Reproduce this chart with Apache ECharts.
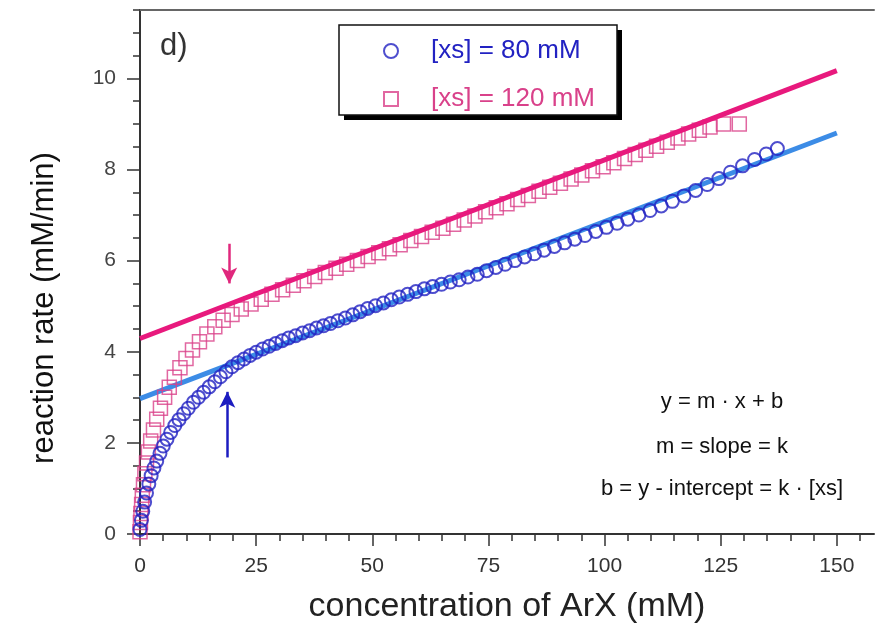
<!DOCTYPE html>
<html>
<head>
<meta charset="utf-8">
<script src="https://cdn.jsdelivr.net/npm/echarts@6/dist/echarts.min.js"></script>
<style>
  html, body { margin: 0; background: #fff; }
  #main { width: 876px; height: 634px; }
</style>
</head>
<body>
<div id="main"></div>
<script>
  // measured points [ArX (mM), rate (mM/min)]
  var data80 = [
    [0, 0.1], [0.3, 0.3], [0.6, 0.5], [1.0, 0.7], [1.4, 0.9], [1.9, 1.1], [2.4, 1.28], [3.0, 1.45],
    [3.6, 1.6], [4.3, 1.77], [5.0, 1.93], [5.8, 2.08], [6.6, 2.23], [7.5, 2.38], [8.4, 2.51], [9.4, 2.64],
    [10.4, 2.76], [11.5, 2.89], [12.6, 3.0], [13.7, 3.11], [14.9, 3.23], [16.1, 3.34], [17.3, 3.45],
    [18.5, 3.56], [19.8, 3.67], [21.1, 3.76], [22.4, 3.84], [23.7, 3.92], [25.0, 3.99], [26.4, 4.06],
    [27.8, 4.12], [29.2, 4.18], [30.6, 4.24], [32.0, 4.3], [33.5, 4.35], [35.0, 4.41], [36.5, 4.46],
    [38.0, 4.52], [39.5, 4.57], [41.0, 4.62], [42.6, 4.68], [44.2, 4.74], [45.8, 4.81], [47.4, 4.88],
    [49.0, 4.95], [50.7, 5.01], [52.4, 5.07], [54.1, 5.14], [55.8, 5.2], [57.6, 5.26], [59.4, 5.32],
    [61.2, 5.38], [63.0, 5.43], [64.9, 5.48], [66.8, 5.53], [68.7, 5.58], [70.6, 5.64], [72.6, 5.7],
    [74.6, 5.78], [76.6, 5.85], [78.6, 5.92], [80.7, 6.0], [82.8, 6.08], [84.9, 6.15], [87.0, 6.23],
    [89.2, 6.31], [91.4, 6.39], [93.6, 6.47], [95.8, 6.55], [98.1, 6.64], [100.4, 6.73], [102.7, 6.82],
    [105.0, 6.91], [107.4, 7.0], [109.8, 7.1], [112.2, 7.2], [114.6, 7.3], [117.1, 7.42], [119.6, 7.54],
    [122.1, 7.67], [124.6, 7.8], [127.1, 7.94], [129.7, 8.08], [132.3, 8.22], [134.8, 8.34], [137.2, 8.46]
  ];
  var data120 = [
    [0, 0.05], [0.1, 0.25], [0.2, 0.45], [0.35, 0.65], [0.5, 0.85], [0.75, 1.08], [1.05, 1.32],
    [1.4, 1.56], [1.8, 1.8], [2.3, 2.04], [2.9, 2.28], [3.6, 2.52], [4.4, 2.76], [5.3, 3.0],
    [6.3, 3.22], [7.4, 3.44], [8.6, 3.65], [9.9, 3.85], [11.3, 4.04], [12.8, 4.22], [14.4, 4.39],
    [16.1, 4.55], [17.9, 4.69], [19.8, 4.82], [21.8, 4.94], [23.9, 5.05], [26.1, 5.15], [28.4, 5.26],
    [30.7, 5.36], [33.0, 5.46], [35.3, 5.56], [37.6, 5.65], [39.9, 5.74], [42.2, 5.83], [44.5, 5.92],
    [46.8, 6.0], [49.1, 6.09], [51.4, 6.17], [53.7, 6.26], [56.0, 6.35], [58.3, 6.44], [60.6, 6.53],
    [62.9, 6.62], [65.2, 6.71], [67.5, 6.8], [69.8, 6.89], [72.1, 6.98], [74.4, 7.07], [76.7, 7.16],
    [79.0, 7.25], [81.3, 7.34], [83.6, 7.43], [85.9, 7.52], [88.2, 7.61], [90.5, 7.7], [92.8, 7.79],
    [95.1, 7.88], [97.4, 7.97], [99.7, 8.06], [102.0, 8.15], [104.3, 8.24], [106.6, 8.33], [108.9, 8.42],
    [111.2, 8.51], [113.5, 8.6], [115.8, 8.69], [118.1, 8.78], [120.4, 8.86], [122.7, 8.93], [125.6, 9.0],
    [129.0, 9.0]
  ];
  // linear fits y = m*x + b (end points)
  var fit80 = [[0, 2.97], [150, 8.8]];
  var fit120 = [[0, 4.29], [150, 10.17]];
  // arrows (tail, head)
  var arrow80 = [[18.8, 1.68], [18.8, 3.12]];
  var arrow120 = [[19.2, 6.37], [19.2, 5.5]];

  var xMajor = [0, 25, 50, 75, 100, 125, 150];
  var xMinor = [0, 5, 10, 15, 20, 25, 30, 35, 40, 45, 50, 55, 60, 65, 70, 75, 80, 85, 90, 95, 100,
    105, 110, 115, 120, 125, 130, 135, 140, 145, 150, 155];
  var yMajor = [0, 2, 4, 6, 8, 10];
  var yMinor = [0, 0.5, 1, 1.5, 2, 2.5, 3, 3.5, 4, 4.5, 5, 5.5, 6, 6.5, 7, 7.5, 8, 8.5, 9, 9.5, 10,
    10.5, 11, 11.5];

  var name80 = '[xs] = 80 mM', name120 = '[xs] = 120 mM';
  var formulas = ['y = m · x + b', 'm = slope = k', 'b = y - intercept = k · [xs]'];

  var blue = '#2222c2', pink = '#d9418a', blueFit = '#3c8ce6', pinkFit = '#e8197d';
  var font = '"Liberation Sans", Arial, Helvetica, sans-serif';

  var myChart = echarts.init(document.getElementById('main'));

  var axisX = { type: 'value', min: 0, max: 158, splitLine: { show: false } };
  var axisY = { type: 'value', min: 0, max: 11.5, splitLine: { show: false } };

  var option = {
    animation: false,
    backgroundColor: '#fff',
    textStyle: { fontFamily: font },
    grid: { left: 140, right: 2, top: 10, bottom: 100 },
    legend: {
      left: 339,
      top: 25,
      z: 6,
      orient: 'vertical',
      data: [
        { name: name80, icon: 'circle', textStyle: { color: blue } },
        { name: name120, icon: 'rect', textStyle: { color: pink } }
      ],
      padding: [13, 20, 8, 44],
      itemGap: 22,
      itemWidth: 14,
      itemHeight: 14,
      textStyle: { fontSize: 26, fontFamily: font, lineHeight: 24, padding: [0, 0, 0, 28] },
      backgroundColor: 'transparent',
      borderWidth: 0
    },
    xAxis: [
      Object.assign({}, axisX, {
        position: 'bottom',
        axisLine: { lineStyle: { color: '#333', width: 2 } },
        axisTick: { customValues: xMinor, length: 7, lineStyle: { color: '#333', width: 1.5 } },
        axisLabel: { customValues: xMajor, margin: 22, fontSize: 21, color: '#333', fontFamily: font },
        name: 'concentration of ArX (mM)',
        nameLocation: 'middle',
        nameGap: 56,
        nameTextStyle: { fontSize: 34, color: '#222', fontFamily: font }
      }),
      Object.assign({}, axisX, {
        position: 'bottom',
        axisLine: { show: false },
        axisTick: { customValues: xMajor, length: 12, lineStyle: { color: '#333', width: 1.5 } },
        axisLabel: { show: false }
      }),
      Object.assign({}, axisX, {
        position: 'top',
        axisLine: { lineStyle: { color: '#666', width: 2 } },
        axisTick: { show: false },
        axisLabel: { show: false }
      })
    ],
    yAxis: [
      Object.assign({}, axisY, {
        position: 'left',
        axisLine: { show: true, lineStyle: { color: '#333', width: 2 } },
        axisTick: { show: true, customValues: yMinor, length: 7, lineStyle: { color: '#333', width: 1.5 } },
        axisLabel: { customValues: yMajor, margin: 24, fontSize: 21, color: '#444', fontFamily: font },
        name: 'reaction rate (mM/min)',
        nameLocation: 'middle',
        nameGap: 80,
        nameRotate: 90,
        nameTextStyle: { fontSize: 31, color: '#111', fontFamily: font, padding: [0, 72, 0, 0] }
      }),
      Object.assign({}, axisY, {
        position: 'left',
        axisLine: { show: false },
        axisTick: { show: true, customValues: yMajor, length: 13, lineStyle: { color: '#333', width: 1.5 } },
        axisLabel: { show: false }
      })
    ],
    graphic: [
      // legend frame with drop shadow
      { type: 'rect', z: 3, shape: { x: 344, y: 30, width: 278, height: 90 }, style: { fill: '#000' } },
      { type: 'rect', z: 3, shape: { x: 339, y: 25, width: 278, height: 90 }, style: { fill: '#fff', stroke: '#111', lineWidth: 1.5 } },
      { type: 'text', left: 160, top: 31, style: { text: 'd)', fontSize: 31, fill: '#333', fontFamily: font } },
      { type: 'text', x: 722, y: 402, style: { text: formulas[0], fontSize: 22, fill: '#111', fontFamily: font, align: 'center', verticalAlign: 'middle' } },
      { type: 'text', x: 722, y: 447, style: { text: formulas[1], fontSize: 22, fill: '#111', fontFamily: font, align: 'center', verticalAlign: 'middle' } },
      { type: 'text', x: 722, y: 489, style: { text: formulas[2], fontSize: 22, fill: '#111', fontFamily: font, align: 'center', verticalAlign: 'middle' } }
    ],
    series: [
      {
        name: 'fit 80',
        type: 'line',
        data: fit80,
        showSymbol: false,
        z: 1,
        lineStyle: { color: blueFit, width: 5 },
        markLine: {
          silent: true,
          symbol: ['none', 'arrow'],
          symbolSize: [12, 16],
          label: { show: false },
          lineStyle: { color: '#1c1cc0', width: 2.5, type: 'solid' },
          data: [[{ coord: arrow80[0] }, { coord: arrow80[1] }]]
        }
      },
      {
        name: name120,
        type: 'scatter',
        data: data120,
        symbol: 'rect',
        symbolSize: 14,
        clip: false,
        z: 2,
        itemStyle: { color: 'rgba(255,255,255,0)', borderColor: pink, borderWidth: 1.5 }
      },
      {
        name: 'fit 120',
        type: 'line',
        data: fit120,
        showSymbol: false,
        z: 3,
        lineStyle: { color: pinkFit, width: 5 },
        markLine: {
          silent: true,
          symbol: ['none', 'arrow'],
          symbolSize: [12, 16],
          label: { show: false },
          lineStyle: { color: '#e0287d', width: 2.5, type: 'solid' },
          data: [[{ coord: arrow120[0] }, { coord: arrow120[1] }]]
        }
      },
      {
        name: name80,
        type: 'scatter',
        data: data80,
        symbol: 'circle',
        symbolSize: 13,
        clip: false,
        z: 4,
        itemStyle: { color: 'rgba(255,255,255,0)', borderColor: blue, borderWidth: 2 }
      }
    ]
  };
  myChart.setOption(option);
</script>
</body>
</html>
